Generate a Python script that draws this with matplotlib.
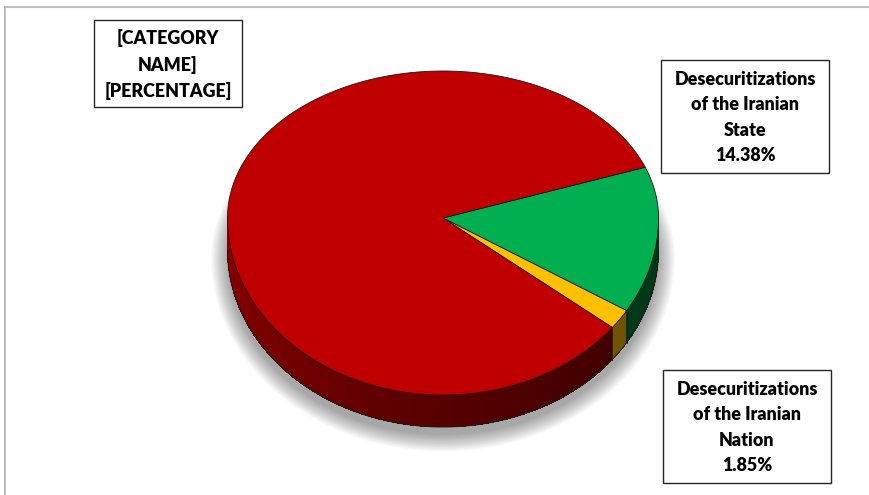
import numpy as np
import matplotlib.pyplot as plt
from matplotlib.patches import Polygon, Rectangle
from matplotlib.collections import PolyCollection
import matplotlib.colors as mcolors

plt.rcParams['font.family'] = ['Lato', 'DejaVu Sans']

# データ (円グラフ、時計回り)
labels = ["Desecuritizations\nof the Iranian\nState",
          "Desecuritizations\nof the Iranian\nNation",
          "[CATEGORY\nNAME]"]
values = [14.38, 1.85, 83.77]
pct_text = ["14.38%", "1.85%", "[PERCENTAGE]"]
colors = ["#00B050", "#FFC000", "#C00000"]

W, H = 869, 495
fig = plt.figure(figsize=(W / 100, H / 100), dpi=100)
ax = fig.add_axes([0, 0, 1, 1])
ax.set_xlim(0, W)
ax.set_ylim(H, 0)
ax.axis('off')

# 3D風の楕円パラメータ (ピクセル座標)
cx, cy = 443, 218
a = 215.5
b_far, b_near = 147, 177
depth = 32
start = 20.2


def pt(theta_deg, dz=0.0, grow=0.0):
    t = np.radians(theta_deg)
    s = np.sin(t)
    b = np.where(s > 0, b_far, b_near) + grow
    return cx + (a + grow) * np.cos(t), cy - b * s + dz


total = sum(values)
bounds = [start]
for v in values:
    bounds.append(bounds[-1] - v / total * 360)

# 影
for k in range(16):
    th = np.linspace(0, 360, 361)
    x, y = pt(th, dz=depth + 8, grow=k * 1.1)
    ax.add_patch(Polygon(np.column_stack([x, y]), closed=True, facecolor='black',
                         edgecolor='none', alpha=0.025, zorder=1))


def slice_of(phi):
    off = (start - phi) % 360
    cum = np.cumsum(values) / total * 360
    return int(np.searchsorted(cum, off))


# 側面
phis = np.linspace(-180, 0, 721)
shade = np.interp(phis, [-180, -90, -40, 0], [0.73, 0.45, 0.34, 0.30])
quads, fcs = [], []
for i in range(len(phis) - 1):
    p0, p1 = phis[i], phis[i + 1]
    idx = slice_of((p0 + p1) / 2)
    x0, y0 = pt(p0)
    x1, y1 = pt(p1)
    quads.append([(x0, y0 - 2), (x1, y1 - 2), (x1, y1 + depth), (x0, y0 + depth)])
    rgb = np.array(mcolors.to_rgb(colors[idx]))
    f = shade[i] * (1.3 if idx == 1 else 1.0)
    fcs.append(tuple(np.clip(rgb * f, 0, 1)))
ax.add_collection(PolyCollection(quads, facecolors=fcs, edgecolors='none',
                                 antialiased=False, zorder=2))
bx, by = pt(phis, dz=depth)
ax.plot(bx, by, color='#1a1a1a', lw=0.7, zorder=4)
for bd in bounds:
    phi = ((bd + 180) % 360) - 180
    if -180 < phi < 0:
        x, y = pt(phi)
        ax.plot([x, x], [y, y + depth], color='#1a1a1a', lw=0.6, zorder=4)

# 上面
for i, c in enumerate(colors):
    th = np.linspace(bounds[i], bounds[i + 1], 300)
    x, y = pt(th)
    poly = np.vstack([[cx, cy], np.column_stack([x, y])])
    ax.add_patch(Polygon(poly, closed=True, facecolor=c, edgecolor='#1a1a1a',
                         lw=0.6, zorder=3))

# ラベル
boxes = [(661, 60, 829, 173), (663, 370, 831, 483), (94, 20, 242, 107)]
for i, (x0, y0, x1, y1) in enumerate(boxes):
    ax.add_patch(Rectangle((x0, y0), x1 - x0, y1 - y0, facecolor='white',
                           edgecolor='#262626', lw=1.0, zorder=5))
    ax.text((x0 + x1) / 2, (y0 + y1) / 2 + 1, labels[i] + "\n" + pct_text[i],
            ha='center', va='center', fontsize=12.9, fontweight='heavy',
            linespacing=1.58, color='black', zorder=6)

# 外枠
ax.plot([5, W], [7, 7], color='#BFBFBF', lw=1.5, zorder=0)
ax.plot([5, 5], [7, H], color='#BFBFBF', lw=1.5, zorder=0)

fig.savefig("out.png", dpi=100)
